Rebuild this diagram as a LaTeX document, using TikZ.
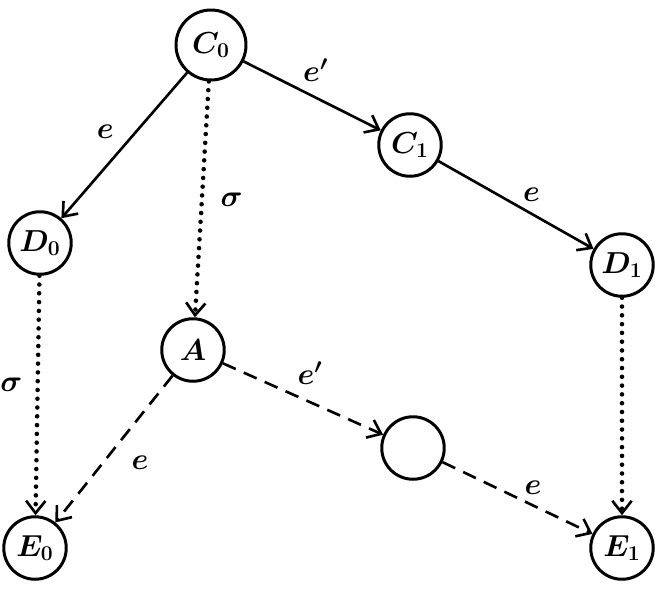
\documentclass[tikz,border=0pt]{standalone}
\usepackage{amsmath}
\usetikzlibrary{arrows.meta}
\tikzset{
  state/.style={draw, circle, line width=1.7pt, minimum size=1.25cm, inner sep=0pt, font=\LARGE\boldmath},
  lbl/.style={font=\LARGE\boldmath},
  arr/.style={line width=1.5pt, -{Straight Barb[length=7pt,width=11pt,line width=1.5pt]}},
  solid step/.style={arr},
  dotted step/.style={arr, dash pattern=on 0pt off 5pt, line cap=round, line width=2.6pt},
  dashed step/.style={arr, dash pattern=on 8pt off 5pt}
}
\begin{document}
\begin{tikzpicture}
\useasboundingbox (0,0) rectangle (13.1,-11.8);
% configurations
\node[state, minimum size=1.4cm] (C0) at (4.22,-0.9) {$C_0$};
\node[state] (C1) at (8.2,-2.9) {$C_1$};
\node[state] (D0) at (0.8,-4.86) {$D_0$};
\node[state] (D1) at (12.44,-5.3) {$D_1$};
\node[state] (A) at (3.86,-7.0) {$A$};
\node[state] (X) at (8.26,-8.96) {};
\node[state] (E0) at (0.7,-10.96) {$E_0$};
\node[state] (E1) at (12.44,-10.96) {$E_1$};
% steps
\draw[solid step] (C0) -- (C1) node[lbl, midway, above, xshift=2pt, yshift=4pt]{$e'$};
\draw[solid step] (C0) -- (D0) node[lbl, midway, left, xshift=-2pt, yshift=8pt]{$e$};
\draw[solid step] (C1) -- (D1) node[lbl, midway, above right, yshift=-2pt]{$e$};
\draw[dotted step] (C0) -- (A) node[lbl, midway, right, xshift=6pt]{$\sigma$};
\draw[dotted step] (D0) -- (E0) node[lbl, midway, left, xshift=-4pt, yshift=6pt]{$\sigma$};
\draw[dotted step] (D1) -- (E1);
\draw[dashed step] (A) -- (E0) node[lbl, midway, right, xshift=6pt, yshift=-8pt]{$e$};
\draw[dashed step] (A) -- (X) node[lbl, midway, above, xshift=4pt, yshift=4pt]{$e'$};
\draw[dashed step] (X) -- (E1) node[lbl, midway, above right, yshift=-2pt]{$e$};
\end{tikzpicture}
\end{document}
